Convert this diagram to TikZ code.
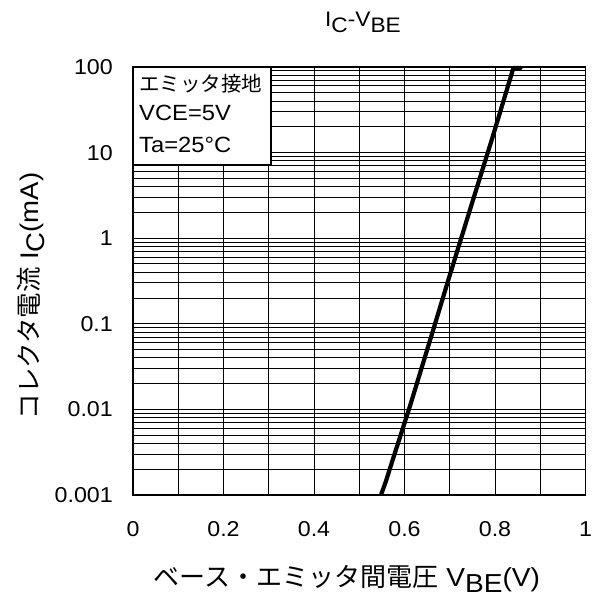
\documentclass[tikz,border=0pt]{standalone}
\usepackage{fontspec}
\setmainfont{Liberation Sans}[FakeStretch=1.08]
\newfontfamily\jp{Noto Sans CJK JP}
\newcommand\dn[1]{\raisebox{-0.26em}{#1}}
\begin{document}
\begin{tikzpicture}[x=1bp,y=-1bp,
  gridline/.style={line width=1bp, black},
  frame/.style={line width=1.8bp, black},
  curve/.style={line width=4.2bp, black, line join=round, line cap=round},
  ticklab/.style={font=\fontsize{21.5bp}{24bp}\selectfont, inner sep=0pt},
  boxtxt/.style={font=\fontsize{22bp}{24bp}\selectfont, inner sep=0pt, anchor=base west},
  axlab/.style={font=\fontsize{26bp}{28bp}\selectfont, inner sep=0pt}]
\useasboundingbox (0,0) rectangle (595,597);
\fill[white] (0,0) rectangle (595,597);
% grid
\foreach \i in {1,...,9}
  \draw[gridline] ({133+\i*45.25},67) -- ({133+\i*45.25},495);
\foreach \k in {0,...,4}{
  \foreach \m in {2,...,10}{
    \pgfmathsetmacro\yy{495-(\k+log10(\m))*85.6}
    \draw[gridline] (133,\yy) -- (585.5,\yy);
  }
}
\draw[frame] (133,67) rectangle (585.5,495);
% legend box
\draw[frame, fill=white] (133,67) rectangle (271,165);
\node[boxtxt, font=\fontsize{20.5bp}{24bp}\selectfont] (l1) at (139,92) {\jp エミッタ接地};
\node[boxtxt] (l2) at (139,121) {VCE=5V};
\node[boxtxt] (l3) at (139,153) {Ta=25°C};
% curve
\draw[curve] (381.3,494) -- (383.5,488) -- (386,481) -- (392,462) -- (410,406) -- (435,324) -- (448,281) -- (473,200) -- (492,139) -- (513.4,68) -- (520.5,68);
% y tick labels
\foreach \v/\d in {100/5,10/4,1/3,0.1/2,0.01/1,0.001/0}
  \node[ticklab, anchor=east] (y\d) at (113,{495-\d*85.6}) {\v};
% x tick labels
\foreach \v/\i in {0/0,0.2/2,0.4/4,0.6/6,0.8/8,1/10}
  \node[ticklab, anchor=center] (x\i) at ({133+\i*45.25},529) {\v};
% title
\node[font=\fontsize{21bp}{24bp}\selectfont, inner sep=0pt, anchor=base] (title) at (363,27) {I\dn{C}-V\dn{BE}};
% axis labels
\node[axlab, anchor=base] (xlab) at (347,586) {{\jp ベース・エミッタ間電圧}\ V\dn{BE}(V)};
\node[axlab, font=\fontsize{25.5bp}{28bp}\selectfont, anchor=base, rotate=90] (ylab) at (38,296) {{\jp コレクタ電流}\ I\dn{C}(mA)};
\end{tikzpicture}
\end{document}
